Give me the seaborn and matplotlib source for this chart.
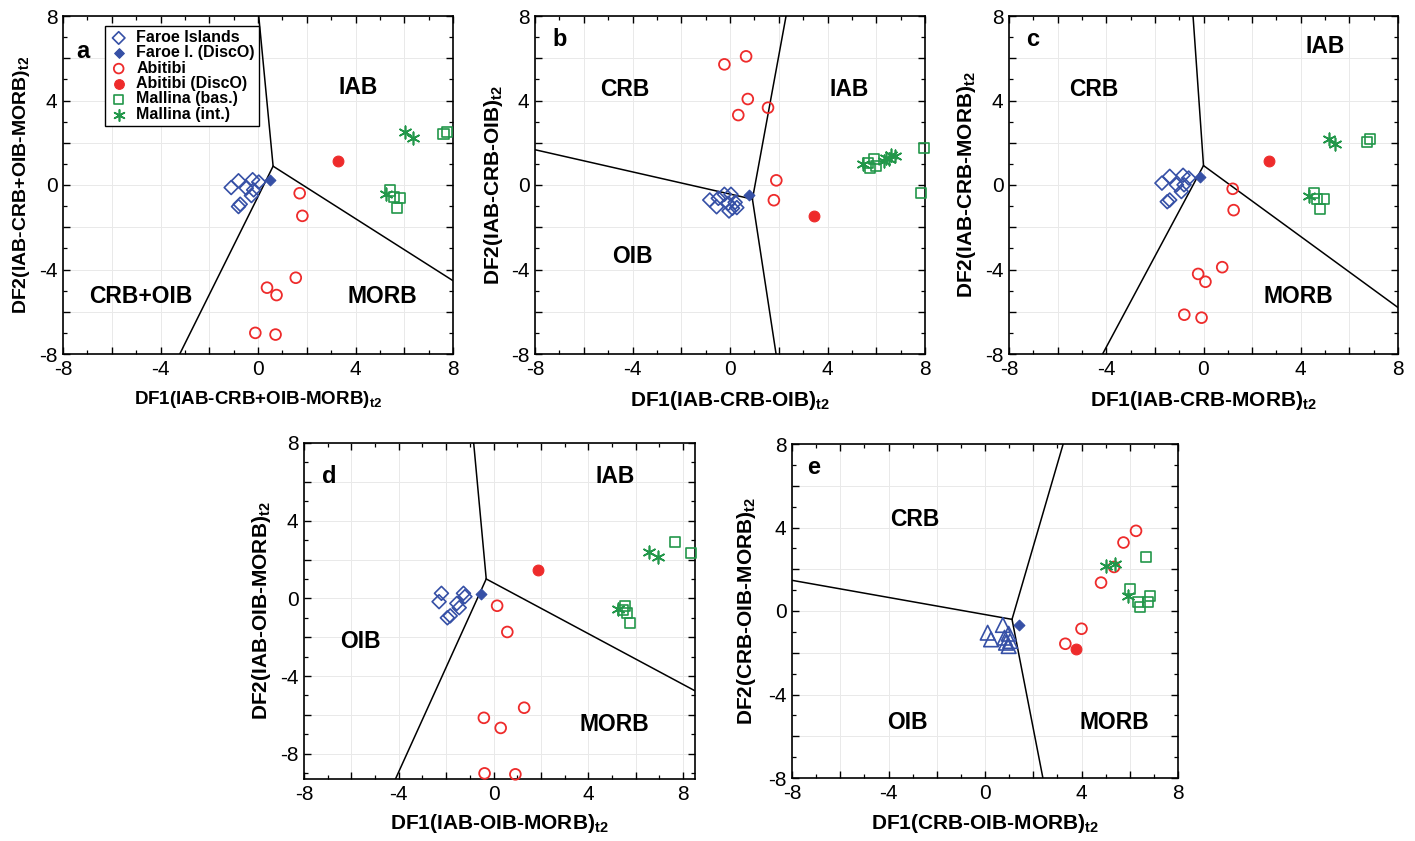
import numpy as np
import matplotlib
matplotlib.use("Agg")
import matplotlib.pyplot as plt
import seaborn as sns
from matplotlib.ticker import MultipleLocator, FuncFormatter

sns.set_theme(style="white")
plt.rcParams['font.family'] = ['Liberation Sans Narrow', 'Liberation Sans', 'DejaVu Sans']
plt.rcParams['axes.unicode_minus'] = False
plt.rcParams['mathtext.fontset'] = 'custom'
plt.rcParams['mathtext.rm'] = 'Liberation Sans'
plt.rcParams['mathtext.bf'] = 'Liberation Sans:bold'
plt.rcParams['text.color'] = 'black'
plt.rcParams['axes.labelcolor'] = 'black'
plt.rcParams['xtick.color'] = 'black'
plt.rcParams['ytick.color'] = 'black'

# ---------------- data ----------------
group_labels = ["Faroe Islands", "Faroe I. (DiscO)", "Abitibi", "Abitibi (DiscO)",
                "Mallina (bas.)", "Mallina (int.)"]

# Panel a: DF1/DF2 (IAB-CRB+OIB-MORB)
a_faroe = [(-1.10, -0.12), (-0.80, 0.20), (-0.48, -0.15), (-0.22, 0.25), (0.03, 0.14),
           (-0.18, -0.23), (-0.27, -0.50), (-0.73, -0.91), (-0.80, -1.02)]
a_faroe_disco = [(0.51, 0.22)]
a_abitibi = [(1.71, -0.39), (1.82, -1.46), (1.55, -4.39), (0.37, -4.86), (0.76, -5.21),
             (-0.11, -7.00), (0.72, -7.08)]
a_abitibi_disco = [(3.27, 1.12)]
a_mallina_bas = [(7.61, 2.43), (7.75, 2.53), (5.43, -0.26), (5.56, -0.56), (5.81, -0.60),
                 (5.70, -1.10)]
a_mallina_int = [(6.02, 2.51), (6.34, 2.24), (5.24, -0.44)]
a_bounds = [(0.62, 0.89), (0.03, 8.0), (-3.21, -8.0), (8.0, -4.53)]

# Panel b: DF1/DF2 (IAB-CRB-OIB)
b_faroe = [(-0.83, -0.71), (-0.55, -1.03), (-0.48, -0.63), (-0.23, -0.44), (0.04, -0.44),
           (-0.07, -0.87), (0.21, -0.82), (-0.04, -1.23), (0.10, -1.10), (0.28, -1.07)]
b_faroe_disco = [(0.76, -0.47)]
b_abitibi = [(-0.23, 5.71), (0.66, 6.09), (0.73, 4.07), (0.34, 3.31), (1.56, 3.66),
             (1.90, 0.22), (1.80, -0.72)]
b_abitibi_disco = [(3.44, -1.46)]
b_mallina_bas = [(7.95, 1.76), (7.85, -0.39), (5.68, 1.05), (5.92, 1.21), (5.74, 0.81),
                 (5.99, 0.89)]
b_mallina_int = [(5.44, 1.00), (6.41, 1.28), (6.61, 1.41), (6.75, 1.36), (6.54, 1.21),
                 (6.30, 1.15)]
b_bounds = [(0.92, -0.67), (2.30, 8.0), (-8.0, 1.67), (1.89, -8.0)]

# Panel c: DF1/DF2 (IAB-CRB-MORB)
c_faroe = [(-1.71, 0.09), (-1.39, 0.41), (-1.11, 0.01), (-0.84, 0.46), (-0.61, 0.33),
           (-0.80, 0.01), (-0.91, -0.31), (-1.39, -0.71), (-1.49, -0.79)]
c_faroe_disco = [(-0.14, 0.38)]
c_abitibi = [(1.20, -0.18), (1.24, -1.19), (0.77, -3.89), (-0.22, -4.21), (0.08, -4.58),
             (-0.79, -6.14), (-0.08, -6.28)]
c_abitibi_disco = [(2.70, 1.12)]
c_mallina_bas = [(6.74, 2.05), (6.83, 2.16), (4.53, -0.36), (4.67, -0.66), (4.95, -0.67),
                 (4.81, -1.14)]
c_mallina_int = [(5.15, 2.16), (5.40, 1.92), (4.32, -0.50)]
c_bounds = [(0.0, 0.92), (-0.43, 8.0), (-4.15, -8.0), (8.0, -5.80)]

# Panel d: DF1/DF2 (IAB-OIB-MORB)
d_faroe = [(-2.20, 0.26), (-2.30, -0.17), (-1.95, -1.00), (-1.83, -0.90), (-1.55, -0.26),
           (-1.45, -0.48), (-1.27, 0.26), (-1.21, 0.09)]
d_faroe_disco = [(-0.53, 0.21)]
d_abitibi = [(0.15, -0.38), (0.58, -1.73), (1.29, -5.63), (-0.41, -6.15), (0.30, -6.67),
             (-0.38, -9.01), (0.92, -9.06)]
d_abitibi_disco = [(1.89, 1.47)]
d_mallina_bas = [(7.67, 2.91), (8.34, 2.34), (5.54, -0.38), (5.46, -0.60), (5.64, -0.73),
                 (5.74, -1.26)]
d_mallina_int = [(6.56, 2.39), (6.92, 2.11), (5.26, -0.55)]
d_bounds = [(-0.31, 1.00), (-0.84, 8.0), (-4.14, -9.3), (8.5, -4.76)]

# Panel e: DF1/DF2 (CRB-OIB-MORB)
e_faroe = [(0.11, -1.04), (0.25, -1.36), (0.74, -0.67), (0.98, -1.09), (0.81, -1.28),
           (1.04, -1.44), (0.98, -1.68), (0.87, -1.52)]
e_faroe_disco = [(1.43, -0.67)]
e_abitibi = [(6.26, 3.84), (5.74, 3.28), (5.35, 2.11), (4.81, 1.36), (4.00, -0.85),
             (3.33, -1.57)]
e_abitibi_disco = [(3.76, -1.84)]
e_mallina_bas = [(6.68, 2.59), (6.01, 1.04), (6.36, 0.45), (6.43, 0.19), (6.74, 0.45),
                 (6.82, 0.72)]
e_mallina_int = [(5.01, 2.16), (5.39, 2.27), (5.94, 0.72)]
e_bounds = [(1.12, -0.40), (3.24, 8.0), (-8.0, 1.47), (2.40, -8.0)]

panel_letters = ["a", "b", "c", "d", "e"]
x_titles = ["IAB-CRB+OIB-MORB", "IAB-CRB-OIB", "IAB-CRB-MORB", "IAB-OIB-MORB", "CRB-OIB-MORB"]
region_names = [["IAB", "CRB+OIB", "MORB"], ["CRB", "IAB", "OIB"], ["CRB", "IAB", "MORB"],
                ["IAB", "OIB", "MORB"], ["CRB", "OIB", "MORB"]]
region_pos = [[(4.1, 4.6), (-4.8, -5.3), (5.1, -5.3)],
              [(-4.3, 4.5), (4.9, 4.5), (-4.0, -3.4)],
              [(-4.5, 4.5), (5.0, 6.55), (3.9, -5.3)],
              [(5.15, 6.3), (-5.6, -2.2), (5.1, -6.5)],
              [(-2.9, 4.4), (-3.2, -5.35), (5.35, -5.35)]]

# ---------------- styling ----------------
BLUE = "#3650A6"
RED = "#EE2B2B"
GREEN = "#22974A"
BOLD = "Liberation Sans"

panels = [
    dict(data=[a_faroe, a_faroe_disco, a_abitibi, a_abitibi_disco, a_mallina_bas, a_mallina_int],
         bounds=a_bounds, rect=[63, 16, 453, 354], xlim=(-8, 8), ylim=(-8, 8),
         letter=(0.035, 0.895), xl=13.5, yl=14, ylx=-0.08, xly=-0.105, faroe_marker="D"),
    dict(data=[b_faroe, b_faroe_disco, b_abitibi, b_abitibi_disco, b_mallina_bas, b_mallina_int],
         bounds=b_bounds, rect=[535, 16, 925, 354], xlim=(-8, 8), ylim=(-8, 8),
         letter=(0.045, 0.93), xl=15, yl=15, ylx=-0.077, xly=-0.105, faroe_marker="D"),
    dict(data=[c_faroe, c_faroe_disco, c_abitibi, c_abitibi_disco, c_mallina_bas, c_mallina_int],
         bounds=c_bounds, rect=[1009, 16, 1398, 354], xlim=(-8, 8), ylim=(-8, 8),
         letter=(0.045, 0.93), xl=15, yl=15, ylx=-0.079, xly=-0.105, faroe_marker="D"),
    dict(data=[d_faroe, d_faroe_disco, d_abitibi, d_abitibi_disco, d_mallina_bas, d_mallina_int],
         bounds=d_bounds, rect=[304, 443, 695, 779], xlim=(-8, 8.5), ylim=(-9.3, 8),
         letter=(0.045, 0.90), xl=15, yl=15, ylx=-0.079, xly=-0.098, faroe_marker="D"),
    dict(data=[e_faroe, e_faroe_disco, e_abitibi, e_abitibi_disco, e_mallina_bas, e_mallina_int],
         bounds=e_bounds, rect=[792, 444, 1178, 778], xlim=(-8, 8), ylim=(-8, 8),
         letter=(0.04, 0.93), xl=15, yl=15, ylx=-0.088, xly=-0.102, faroe_marker="^"),
]

W, H = 1415, 841
fig = plt.figure(figsize=(W / 100, H / 100), dpi=100)

def tick_fmt(v, pos):
    iv = int(round(v))
    return str(iv) if abs(v - iv) < 1e-6 and iv % 4 == 0 else ""

for i, p in enumerate(panels):
    l, t, r, b = p["rect"]
    ax = fig.add_axes([l / W, 1 - b / H, (r - l) / W, (b - t) / H])
    ax.set_xlim(*p["xlim"])
    ax.set_ylim(*p["ylim"])

    # group styles: (marker, filled, color, size, lw)
    styles = [
        (p["faroe_marker"], False, BLUE, 50 if p["faroe_marker"] == "D" else 110, 1.2),
        ("D", True, BLUE, 30, 0.8),
        ("o", False, RED, 60, 1.3),
        ("o", True, RED, 60, 0.8),
        ("s", False, GREEN, 52, 1.2),
        ((6, 2, 0), None, GREEN, 80, 1.2),
    ]

    # boundary lines
    tp = p["bounds"][0]
    for end in p["bounds"][1:]:
        ax.plot([tp[0], end[0]], [tp[1], end[1]], color="black", lw=1.1, zorder=2,
                clip_on=True)

    for pts, (mk, filled, col, sz, lw), lab in zip(p["data"], styles, group_labels):
        xs = [q[0] for q in pts]
        ys = [q[1] for q in pts]
        kw = dict(x=xs, y=ys, marker=mk, s=sz, ax=ax, zorder=3, clip_on=False,
                  label=lab if i == 0 else None, legend=False)
        if filled is None:
            sns.scatterplot(color=col, linewidth=lw, **kw)
        elif filled:
            sns.scatterplot(color=col, edgecolor=col, linewidth=lw, **kw)
        else:
            sns.scatterplot(color=col, facecolor="none", edgecolor=col, linewidth=lw, **kw)

    # ticks and grid
    for axis in (ax.xaxis, ax.yaxis):
        axis.set_major_locator(MultipleLocator(2))
        axis.set_minor_locator(MultipleLocator(1))
        axis.set_major_formatter(FuncFormatter(tick_fmt))
    ax.tick_params(which="both", direction="in", top=True, right=True, bottom=True,
                   left=True, colors="black", labelsize=15, pad=4)
    ax.tick_params(which="major", length=5, width=1)
    ax.tick_params(which="minor", length=3, width=0.9)
    ax.grid(True, which="major", color="#e9e9e9", lw=0.7, zorder=0)
    ax.set_axisbelow(True)
    for sp in ax.spines.values():
        sp.set_visible(True)
        sp.set_color("black")
        sp.set_linewidth(1.2)

    # axis labels
    xt = x_titles[i]
    ax.set_xlabel("DF1(" + xt + r")$_{\mathbf{t2}}$", fontsize=p["xl"], fontweight="bold",
                  family=BOLD, color="black")
    ax.set_ylabel("DF2(" + xt + r")$_{\mathbf{t2}}$", fontsize=p["yl"], fontweight="bold",
                  family=BOLD, color="black")
    ax.xaxis.set_label_coords(0.5, p["xly"])
    ax.xaxis.label.set_va("top")
    ax.yaxis.set_label_coords(p["ylx"], 0.5)

    # panel letter and region names
    ax.text(p["letter"][0], p["letter"][1], panel_letters[i], transform=ax.transAxes,
            fontsize=17, fontweight="bold", family=BOLD, ha="left", va="center",
            color="black")
    for name, (rx, ry) in zip(region_names[i], region_pos[i]):
        ax.text(rx, ry, name, fontsize=16.5, fontweight="bold", family=BOLD,
                ha="center", va="center", zorder=4, color="black")

    if i == 0:
        leg = ax.legend(loc="upper left", bbox_to_anchor=(0.108, 0.97), borderaxespad=0,
                        frameon=True, fancybox=False, framealpha=1, edgecolor="black",
                        prop=dict(family=BOLD, weight="bold", size=11.5),
                        handletextpad=0.5, labelspacing=0.02, borderpad=0.25,
                        handlelength=1.2, markerscale=0.9)
        leg.get_frame().set_linewidth(1.0)
        leg.set_zorder(5)
        for txt in leg.get_texts():
            txt.set_color("black")

fig.savefig("out.png", dpi=100)
